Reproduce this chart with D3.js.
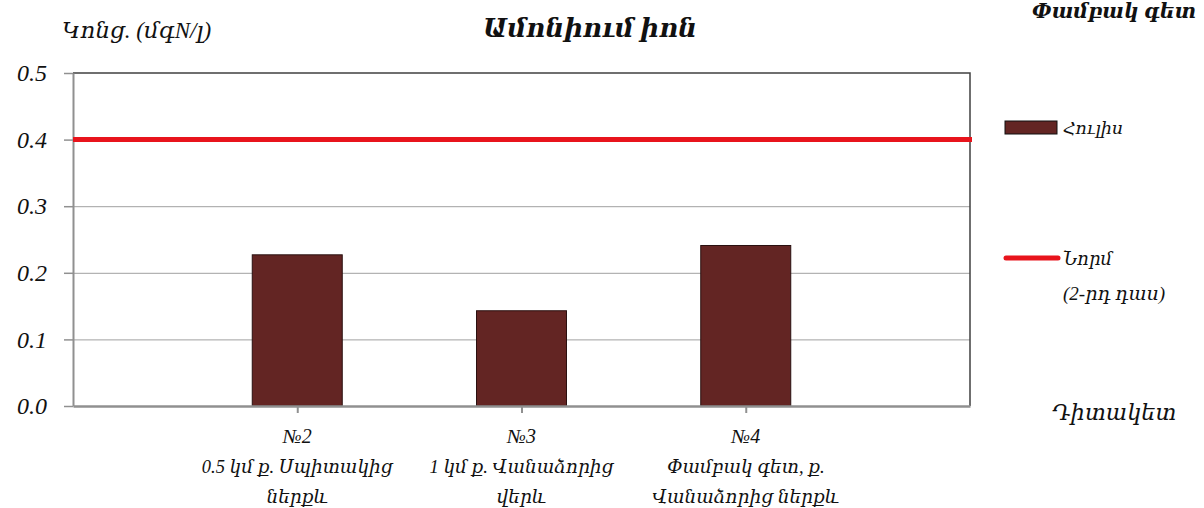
<!DOCTYPE html>
<html>
<head>
<meta charset="utf-8">
<script src="https://cdn.jsdelivr.net/npm/d3@7"></script>
<style>
  body { margin: 0; background: #fff; }
  svg text { font-family: "Liberation Serif", "DejaVu Serif", serif; font-style: italic; fill: #111; }
</style>
</head>
<body>
<div id="chart"></div>
<script>
// Data
const categories = ["№2", "№3", "№4"];
const categoryLines = [
  ["№2", "0.5 կմ ք. Սպիտակից", "ներքև"],
  ["№3", "1 կմ ք. Վանաձորից", "վերև"],
  ["№4", "Փամբակ գետ, ք.", "Վանաձորից ներքև"]
];
const julyValues = [0.227, 0.143, 0.241];
const normValue = 0.4;
const yTicks = [0, 0.1, 0.2, 0.3, 0.4, 0.5];

const width = 1204;
const height = 508;
const plot = { left: 73, right: 970, top: 73, bottom: 406 };

const svg = d3.select("#chart")
  .append("svg")
  .attr("width", width)
  .attr("height", height);

const x = d3.scalePoint()
  .domain(categories)
  .range([plot.left, plot.right])
  .padding(1);

const y = d3.scaleLinear()
  .domain([0, 0.5])
  .range([plot.bottom, plot.top]);

// gridlines
svg.append("g")
  .attr("transform", `translate(${plot.left},0)`)
  .call(d3.axisLeft(y).tickValues(yTicks.slice(1, -1)).tickSize(-(plot.right - plot.left)).tickFormat(""))
  .call(g => g.select(".domain").remove())
  .call(g => g.selectAll("line").attr("stroke", "#a0a0a0").attr("stroke-width", 1));

// top and right border
svg.append("path")
  .attr("d", `M${plot.left},${plot.top}H${plot.right}V${plot.bottom}`)
  .attr("fill", "none")
  .attr("stroke", "#404040")
  .attr("stroke-width", 1.5);

// bars
const barWidth = 90;
svg.selectAll(".bar")
  .data(julyValues)
  .enter()
  .append("rect")
  .attr("class", "bar")
  .attr("x", (d, i) => x(categories[i]) - barWidth / 2)
  .attr("y", d => y(d))
  .attr("width", barWidth)
  .attr("height", d => y(0) - y(d))
  .attr("fill", "#632523")
  .attr("stroke", "#2a1010")
  .attr("stroke-width", 1);

// y axis
const yAxis = svg.append("g")
  .attr("transform", `translate(${plot.left},0)`)
  .call(d3.axisLeft(y).tickValues(yTicks).tickFormat(d3.format(".1f")).tickSize(9).tickSizeOuter(0).tickPadding(17));
yAxis.select(".domain").attr("stroke", "#909090").attr("stroke-width", 2);
yAxis.selectAll("line").attr("stroke", "#909090").attr("stroke-width", 1.5);
yAxis.selectAll("text")
  .attr("font-size", 24)
  .attr("font-family", "Liberation Serif, serif")
  .attr("font-style", "italic")
  .attr("fill", "#111");

// x axis
const xAxis = svg.append("g")
  .attr("transform", `translate(0,${plot.bottom})`)
  .call(d3.axisBottom(x).tickSize(7).tickSizeOuter(0).tickFormat(""));
xAxis.select(".domain").attr("stroke", "#909090").attr("stroke-width", 2.5);
xAxis.selectAll("line").attr("stroke", "#909090").attr("stroke-width", 2);

// category labels
const catLabel = svg.selectAll(".cat")
  .data(categoryLines)
  .enter()
  .append("text")
  .attr("class", "cat")
  .attr("text-anchor", "middle");
catLabel.each(function (lines, i) {
  d3.select(this).selectAll("tspan")
    .data(lines)
    .enter()
    .append("tspan")
    .attr("x", x(categories[i]))
    .attr("y", (d, j) => 443 + j * 30)
    .attr("font-size", (d, j) => j === 0 ? 20 : 18.5)
    .text(d => d);
});

// norm line
svg.append("line")
  .attr("x1", plot.left)
  .attr("x2", plot.right + 2)
  .attr("y1", y(normValue))
  .attr("y2", y(normValue))
  .attr("stroke", "#e8141c")
  .attr("stroke-width", 5);

// titles
svg.append("text")
  .attr("x", 62)
  .attr("y", 38)
  .attr("font-size", 23)
  .text("Կոնց. (մգN/լ)");

svg.append("text")
  .attr("x", 590)
  .attr("y", 37)
  .attr("text-anchor", "middle")
  .attr("font-size", 26)
  .attr("font-weight", "bold")
  .text("Ամոնիում իոն");

svg.append("text")
  .attr("x", 1196)
  .attr("y", 18)
  .attr("text-anchor", "end")
  .attr("font-size", 20.5)
  .attr("font-weight", "bold")
  .text("Փամբակ գետ");

svg.append("text")
  .attr("x", 1052)
  .attr("y", 420)
  .attr("font-size", 22.5)
  .text("Դիտակետ");

// legend
const legend = svg.append("g");
legend.append("rect")
  .attr("x", 1005)
  .attr("y", 121)
  .attr("width", 52)
  .attr("height", 13)
  .attr("fill", "#632523")
  .attr("stroke", "#111")
  .attr("stroke-width", 1);
legend.append("text")
  .attr("x", 1063)
  .attr("y", 134)
  .attr("font-size", 17.5)
  .text("Հուլիս");

legend.append("line")
  .attr("x1", 1006)
  .attr("x2", 1058)
  .attr("y1", 258)
  .attr("y2", 258)
  .attr("stroke", "#e8141c")
  .attr("stroke-width", 5)
  .attr("stroke-linecap", "round");
legend.append("text")
  .attr("x", 1063)
  .attr("y", 265)
  .attr("font-size", 18)
  .text("Նորմ");
legend.append("text")
  .attr("x", 1063)
  .attr("y", 300)
  .attr("font-size", 19)
  .text("(2-րդ դաս)");
</script>
</body>
</html>
